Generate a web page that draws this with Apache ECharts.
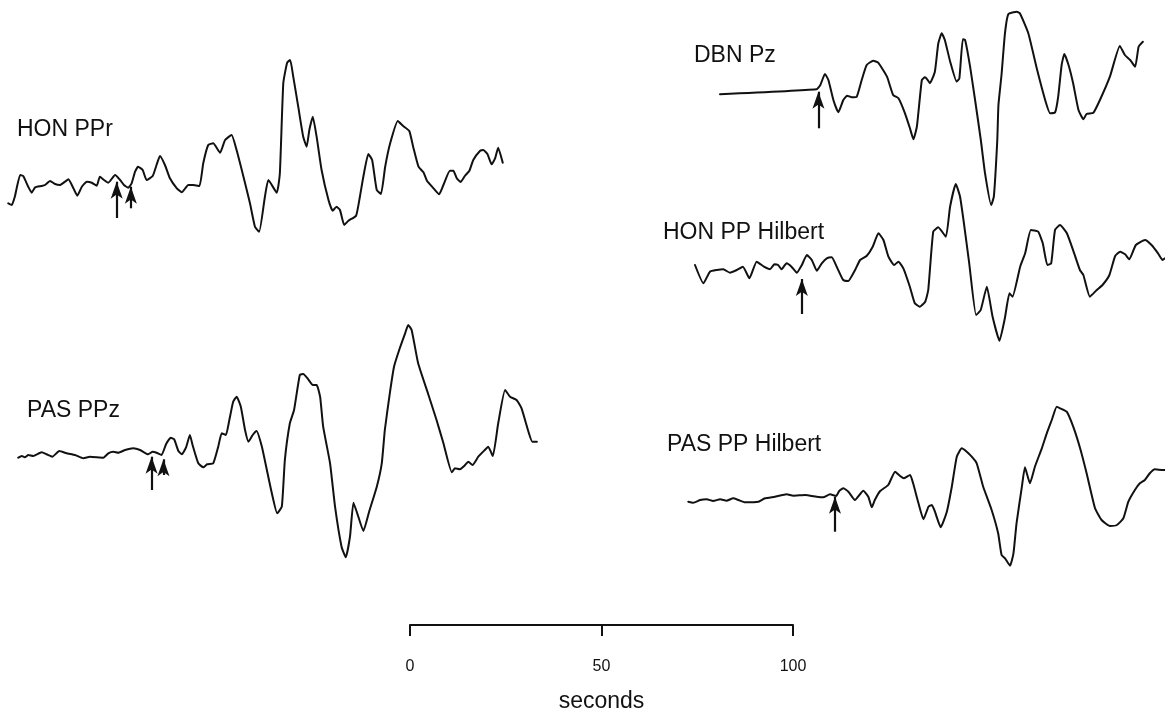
<!DOCTYPE html>
<html>
<head>
<meta charset="utf-8">
<script src="https://cdn.jsdelivr.net/npm/echarts@6/dist/echarts.min.js"></script>
<style>
  html, body { margin: 0; padding: 0; background: #fff; }
  #main { width: 1165px; height: 713px; }
</style>
</head>
<body>
<div id="main"></div>
<script>
// trace labels
var traceNames = ["HON PPr", "PAS PPz", "DBN Pz", "HON PP Hilbert", "PAS PP Hilbert"];

// traces: [seconds from trace start, amplitude]
var honPPr = [
  [0, -18.3], [0.9, -20], [1.7, -11.7], [3.1, 10], [3.9, 9], [5.2, -1.7], [6.1, -7.7], [7.0, -2.3],
  [8.7, -1], [9.6, 0], [10.9, 4], [12.2, 1], [13.5, 0], [14.8, 3.3], [15.7, 5.7], [17.0, -3.3],
  [18.0, -10.7], [19.2, -1.7], [20.5, 3.3], [21.8, 2.3], [23.1, -0.7], [23.9, 8.3], [25.0, 5],
  [26.1, 2.3], [27.9, 10], [29.2, 5], [30.2, 0], [31.3, -2.7], [32.2, 1.7], [33.1, 13.3], [33.9, 18.3],
  [35.1, 15], [36.1, 5], [37.7, 9], [38.7, 20], [39.6, 29], [40.9, 20], [42.2, 6.7], [44.0, -3.3],
  [45.3, -7.3], [47.0, 0], [48.3, 0], [49.9, -1], [50.9, 21.7], [52.2, 40], [53.5, 41.7], [55.3, 32.3],
  [56.6, 45], [58.3, 50], [59.6, 35], [61.4, 8.3], [63.1, -18.3], [64.4, -41.7], [65.5, -46.7],
  [67.0, -11.7], [67.9, 5], [70.1, -7.7], [70.9, 11.7], [71.8, 101.7], [72.8, 122.3], [73.6, 125],
  [74.4, 108.3], [75.7, 78.3], [77.0, 48.3], [77.9, 38.3], [78.6, 55], [79.5, 68.3], [80.5, 48.3],
  [81.8, 15], [83.6, -15], [84.7, -25.7], [85.7, -21.7], [86.6, -25], [87.7, -40], [88.8, -35.7],
  [90.8, -30.7], [91.8, -11.7], [92.7, 8.3], [94.0, 31], [95.0, 25], [96.2, -5], [97.3, -9],
  [98.4, 18.3], [99.7, 41.7], [101.7, 64], [103.1, 59], [104.7, 54], [105.7, 38.3], [107.1, 18.3],
  [108.4, 12.7], [109.3, 4.3], [110.8, -2.3], [112.5, -9.3], [113.6, 0], [115.3, 14.3], [116.2, 14.3],
  [117.1, 6.7], [118.1, 3], [119.2, 9], [120.4, 14.3], [121.4, 25], [123.2, 34.3], [124.0, 35],
  [125.1, 31], [126.2, 20.7], [127.1, 26.7], [127.9, 37.3], [129.1, 22.3]
];
var pasPPz = [
  [0, -2.7], [0.9, -1], [1.7, -2.3], [2.6, 0], [3.9, -1], [6.1, 2.7], [7.4, 0.7], [8.9, -1.7],
  [10.7, 4], [12.6, 1.7], [14.8, 0], [17.0, -3.3], [18.7, -1.7], [22.2, -2.7], [23.5, 1.7], [24.8, 3.3],
  [26.1, 2.3], [27.9, 5], [30.0, 6.7], [31.8, 5], [33.9, 0.7], [35.1, 3.3], [36.1, 2.3], [37.4, 0],
  [38.6, 11], [39.8, 17.3], [40.7, 15.7], [41.8, 4], [42.7, 0.7], [43.8, 7.7], [44.8, 20], [45.5, 10],
  [47.0, -8.3], [48.3, -12.3], [49.3, -9.3], [50.9, -8.3], [52.2, 8.3], [53.1, 21.7], [54.2, 20],
  [55.1, 35], [56.1, 53.3], [57.0, 58.3], [58.1, 48.3], [59.2, 25], [60.1, 13.3], [61.2, 20],
  [62.2, 24], [63.6, 8.3], [64.9, -15], [66.2, -38.3], [67.6, -58.3], [68.8, -51.7], [69.6, -5],
  [70.9, 31.7], [72.0, 45], [73.5, 80], [74.4, 81], [75.7, 75.7], [76.9, 70], [77.9, 70], [78.8, 58.3],
  [79.6, 28.3], [81.4, -8.3], [82.7, -51.7], [84.4, -91.7], [85.5, -102.3], [86.6, -81.7],
  [87.5, -47.7], [88.5, -58.3], [90.1, -76], [91.6, -56.7], [93.6, -31.7], [94.9, -8.3], [95.7, 25],
  [97.0, 61.7], [98.1, 88.3], [99.6, 106.7], [101.0, 121.7], [101.8, 130], [102.7, 125], [104.4, 91.7],
  [107.1, 60], [109.2, 35], [111.0, 11.7], [113.2, -17.3], [114.0, -13.3], [115.3, -14.3],
  [116.5, -10.7], [117.5, -6.7], [118.6, -10], [120.1, -1.7], [121.8, 5], [122.7, 8.3], [123.9, -1],
  [125.3, 31.7], [127.1, 65], [128.4, 58.3], [130.1, 55], [131.4, 46.7], [133.2, 23.3], [134.2, 13.3],
  [135.4, 13.3]
];
var dbnPz = [
  [0, -3.3], [25.2, 1.7], [26.2, 6], [27.4, 17], [28.3, 11], [29.6, -9], [30.9, -21.3], [32.2, -9],
  [33.2, -4.7], [34.4, -6.3], [35.7, -5.7], [37.0, 11], [38.3, 26], [40.0, 30.3], [41.3, 28.3],
  [43.6, 14.3], [45.2, -4], [46.6, -7.3], [48.3, -22.3], [49.6, -37.3], [50.5, -48.3], [51.4, -35.7],
  [52.7, 11], [53.5, 13.7], [54.1, 11.7], [54.8, 7.7], [56.1, 19.3], [57.0, 47.7], [57.9, 57.7],
  [58.7, 51], [60.1, 29.3], [61.8, 9.3], [62.5, 12.7], [63.4, 51.7], [64.0, 51], [65.3, 24.3],
  [66.6, -9], [68.1, -49], [69.2, -82.3], [70.8, -114], [71.5, -105.7], [72.4, -49], [72.7, -14],
  [73.5, 16], [74.4, 57.7], [75.3, 77], [77.5, 79.3], [78.3, 77.7], [80.5, 57.7], [82.7, 22.7],
  [84.9, -9], [86.2, -22.3], [87.5, -21.3], [88.3, -5.7], [89.2, 26], [89.9, 37], [91.0, 26],
  [92.2, 7.7], [93.6, -19], [94.9, -28.3], [95.7, -23], [97.5, -21.7], [99.2, -9], [101.8, 14.3],
  [104.4, 45], [105.7, 36], [107.1, 31], [108.4, 24.3], [109.3, 44.3], [110.4, 49.3]
];
var honHilbert = [
  [0, 3], [2.2, -15.3], [3.9, -3.7], [5.7, -2], [7.4, -1.3], [9.1, -4.7], [10.9, -2], [12.5, 1.3],
  [14.2, -10.3], [16.1, 6.3], [18.0, 1.3], [19.6, -1.3], [20.7, 3.7], [21.7, 3], [22.6, -1.3],
  [23.9, 4.7], [25.2, 1.3], [26.6, -4.7], [27.9, 3], [29.2, 13], [30.5, 8], [31.8, -2.7], [33.1, 4.7],
  [34.4, 9.7], [35.7, 10.7], [37.0, 1.3], [38.7, -12], [40.0, -13], [41.8, -2], [43.1, 8], [44.8, 12],
  [46.4, 21.3], [47.9, 34.7], [49.2, 28], [50.5, 11.3], [52.0, 3], [53.1, 6.3], [54.4, -0.3],
  [56.1, -18.7], [57.4, -35.3], [58.7, -38.7], [60.1, -33.7], [60.9, -22], [62.2, 36.3], [63.5, 40.7],
  [65.5, 31.3], [66.6, 61.3], [68.1, 84], [69.2, 71.3], [70.1, 48], [71.6, 4.7], [73.4, -47],
  [74.6, -42], [76.2, -18.7], [77.7, -48.7], [79.5, -72.7], [80.9, -50.3], [82.1, -25.3], [82.9, -28.7],
  [84.9, 1.3], [86.2, 14.7], [87.7, 38], [89.6, 36.3], [90.8, 24.7], [92.0, 3], [93.0, 4.7], [94.0, 38],
  [95.3, 43], [97.1, 34.7], [99.0, 14.7], [100.5, -2], [101.4, -7], [103.1, -28.7], [104.9, -22],
  [106.4, -17], [108.2, -7], [109.7, 12], [111.0, 16.3], [112.3, 13.7], [113.4, 8.7], [115.1, 23],
  [117.5, 28], [119.2, 23], [120.9, 14.7], [122.1, 8], [122.7, 9.7]
];
var pasHilbert = [
  [0, -2.7], [1.3, -3.7], [3.1, -1], [4.8, -0.3], [6.5, -2], [8.3, -0.3], [10.0, -1.7], [11.7, 0.7],
  [13.1, -1], [14.8, -3.3], [18.3, -2.7], [20.0, 0.7], [22.6, 2.3], [25.7, 4.7], [27.4, 3.3], [30.5, 4],
  [33.5, 2.3], [35.2, 1.7], [37.0, 4.7], [38.6, 3], [39.4, 8], [40.5, 10.7], [41.8, 7.3], [43.5, -1],
  [45.7, 8.3], [47.0, 2.3], [47.9, -8.3], [48.7, -1], [50.1, 8], [52.2, 14], [54.0, 27.3], [55.3, 23],
  [56.3, 20.7], [57.9, 24], [58.7, 15.7], [60.1, -4.3], [61.4, -20.3], [62.7, -7.7], [63.6, -6],
  [64.4, -12.7], [65.9, -28.3], [67.5, -12.7], [68.8, 12.3], [70.1, 42.3], [71.4, 50.7], [72.7, 47.3],
  [74.0, 42.3], [75.3, 35.7], [77.0, 12.3], [79.2, -11], [80.9, -34.3], [81.8, -56], [82.7, -59.3],
  [84.0, -66.7], [84.9, -54.3], [85.7, -24.3], [87.1, 12.3], [87.9, 31.7], [89.2, 15.7], [90.5, 32.3],
  [92.3, 50.7], [93.6, 65.7], [94.9, 79], [96.2, 92.3], [97.1, 90.7], [98.8, 87.3], [100.5, 72.3],
  [102.3, 50.7], [104.0, 25.7], [106.2, -9.3], [107.9, -21], [110.1, -27], [111.9, -26], [113.6, -19.3],
  [114.9, -2.7], [116.6, 9], [117.9, 15.7], [119.2, 19], [120.5, 25.7], [121.8, 29.7], [124.0, 29],
  [124.5, 29]
];

// picked arrivals: [time, arrow tail, arrow tip]
var honPPrPicks = [[28.3, -33, 3.3], [32.0, -23.3, -1.7]];
var pasPPzPicks = [[34.8, -35, -1.7], [37.9, -20, -4.3]];
var dbnPzPicks = [[25.7, -37.3, -0.7]];
var honHilbertPicks = [[27.9, -46, -11]];
var pasHilbertPicks = [[38.3, -32.7, 2.3]];

// time scale bar
var scaleTicks = [0, 50, 100];
var scaleName = "seconds";

var traces = [honPPr, pasPPz, dbnPz, honHilbert, pasHilbert];
var picks = [honPPrPicks, pasPPzPicks, dbnPzPicks, honHilbertPicks, pasHilbertPicks];

// 画面配置 (px)
var PX_PER_S = 3.83;
var layout = [
  { left: 8.3, base: 185, xmax: 130, ymin: -60, ymax: 130, lx: 17, ly: 118 },
  { left: 18.3, base: 455, xmax: 136, ymin: -110, ymax: 140, lx: 27, ly: 399 },
  { left: 720, base: 91, xmax: 111, ymin: -120, ymax: 90, lx: 694, ly: 44 },
  { left: 695, base: 268, xmax: 123, ymin: -80, ymax: 90, lx: 663, ly: 221 },
  { left: 688.3, base: 499, xmax: 125, ymin: -80, ymax: 100, lx: 667, ly: 433 }
];

var FONT = '"Liberation Sans", Arial, Helvetica, sans-serif';
var INK = "#111";

var grids = [], xAxes = [], yAxes = [], series = [], texts = [];
for (var i = 0; i < traces.length; i++) {
  var L = layout[i];
  grids.push({
    left: L.left,
    top: L.base - L.ymax,
    width: L.xmax * PX_PER_S,
    height: L.ymax - L.ymin,
    outerBoundsMode: "none"
  });
  xAxes.push({ type: "value", gridIndex: i, min: 0, max: L.xmax, show: false });
  yAxes.push({ type: "value", gridIndex: i, min: L.ymin, max: L.ymax, show: false });

  var arrows = [];
  for (var k = 0; k < picks[i].length; k++) {
    var p = picks[i][k];
    arrows.push([{ coord: [p[0], p[1]] }, { coord: [p[0], p[2]] }]);
  }
  series.push({
    type: "line",
    name: traceNames[i],
    xAxisIndex: i,
    yAxisIndex: i,
    data: traces[i],
    showSymbol: false,
    symbol: "none",
    clip: false,
    smooth: 0.15,
    lineStyle: { color: INK, width: 2, join: "round", cap: "round" },
    markLine: {
      silent: true,
      symbol: ["none", "arrow"],
      symbolSize: [9, 17],
      label: { show: false },
      lineStyle: { color: INK, width: 2.2, type: "solid" },
      data: arrows
    }
  });
  texts.push({
    type: "text",
    left: L.lx,
    top: L.ly,
    style: { text: traceNames[i], font: "23px " + FONT, fill: INK }
  });
}

// scale bar grid
grids.push({ left: 410, top: 600, width: 100 * PX_PER_S, height: 25, outerBoundsMode: "none" });
xAxes.push({
  type: "value",
  gridIndex: traces.length,
  min: scaleTicks[0],
  max: scaleTicks[scaleTicks.length - 1],
  interval: scaleTicks[1] - scaleTicks[0],
  position: "bottom",
  name: scaleName,
  nameLocation: "middle",
  nameGap: 65,
  nameTextStyle: { fontSize: 23, color: INK, fontFamily: FONT },
  axisLine: { show: true, lineStyle: { color: INK, width: 2 } },
  axisTick: { show: true, inside: false, length: 11, lineStyle: { color: INK, width: 2 } },
  axisLabel: { show: true, margin: 34, fontSize: 16, color: INK, fontFamily: FONT, showMinLabel: true, showMaxLabel: true },
  splitLine: { show: false }
});
yAxes.push({ type: "value", gridIndex: traces.length, show: false });

var myChart = echarts.init(document.getElementById("main"), null, { renderer: "canvas" });
myChart.setOption({
  animation: false,
  backgroundColor: "#fff",
  grid: grids,
  xAxis: xAxes,
  yAxis: yAxes,
  series: series,
  graphic: texts
});
</script>
</body>
</html>
